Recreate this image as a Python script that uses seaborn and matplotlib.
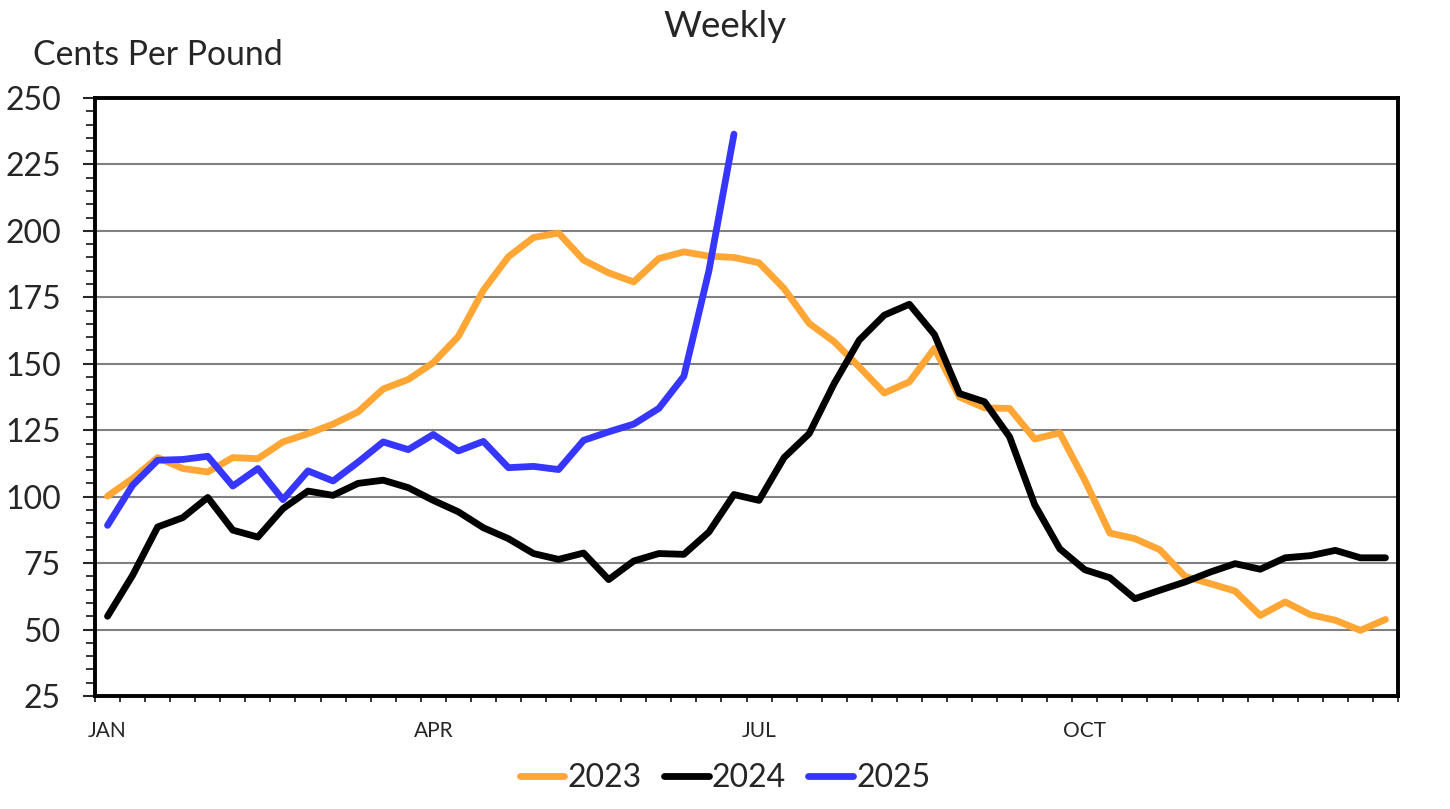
import matplotlib
matplotlib.use('Agg')
import matplotlib.pyplot as plt
import pandas as pd
import seaborn as sns
from matplotlib.ticker import MultipleLocator, FixedLocator

weeks = list(range(52))
price_2023 = [100.2, 106.8, 114.7, 110.6, 109.3, 114.7, 114.3, 120.6, 123.7, 127.3,
              131.9, 140.5, 144.1, 150.4, 160.3, 177.7, 190.3, 197.5, 199.2, 189.0,
              184.2, 180.8, 189.6, 192.1, 190.5, 190.0, 188.0, 178.3, 165.2, 158.3,
              148.8, 139.0, 143.2, 155.8, 137.5, 133.4, 133.2, 121.7, 124.0, 106.2,
              86.3, 84.2, 80.0, 70.0, 67.3, 64.5, 55.3, 60.4, 55.6, 53.5,
              49.7, 53.8]
price_2024 = [55.0, 70.4, 88.6, 92.1, 99.7, 87.4, 84.8, 95.5, 102.1, 100.5,
              105.0, 106.2, 103.4, 98.6, 94.3, 88.3, 84.2, 78.6, 76.4, 78.8,
              68.8, 75.8, 78.6, 78.3, 86.7, 100.8, 98.6, 114.7, 123.7, 142.6,
              158.9, 168.3, 172.4, 161.0, 138.8, 135.7, 122.5, 97.0, 80.4, 72.5,
              69.5, 61.6, 64.8, 67.9, 71.6, 74.8, 72.7, 77.0, 77.8, 79.8,
              77.0, 77.0]
price_2025 = [89.2, 104.3, 113.7, 114.0, 115.2, 104.0, 110.6, 98.9, 109.7, 105.9,
              113.0, 120.6, 117.7, 123.4, 117.2, 120.8, 110.9, 111.4, 110.2, 121.2,
              124.4, 127.3, 133.2, 145.3, 185.0, 236.4]
month_labels = ['JAN', 'APR', 'JUL', 'OCT']
month_weeks = [0, 13, 26, 39]

palette = {'2023': '#FFA635', '2024': '#000000', '2025': '#3636FF'}

frames = []
for year, vals in [('2023', price_2023), ('2024', price_2024), ('2025', price_2025)]:
    frames.append(pd.DataFrame({'week': weeks[:len(vals)], 'price': vals, 'year': year}))
df = pd.concat(frames, ignore_index=True)

sns.set_style('white')
plt.rcParams['font.family'] = ['Lato', 'DejaVu Sans']

fig = plt.figure(figsize=(14.5, 8.09), dpi=100)
ax = fig.add_axes([95 / 1450, 1 - 696 / 809, (1398 - 95) / 1450, (696 - 98) / 809])

sns.lineplot(data=df, x='week', y='price', hue='year', palette=palette,
             linewidth=4.9, solid_capstyle='round', ax=ax, sort=False)

ax.set_xlim(-0.5, 51.5)
ax.set_ylim(25, 250)
ax.set_xlabel('')
ax.set_ylabel('')

ax.yaxis.set_major_locator(MultipleLocator(25))
ax.yaxis.set_minor_locator(MultipleLocator(5))
ax.tick_params(axis='y', which='major', direction='out', length=8.5, width=1.5,
               labelsize=23, pad=16, left=True)
ax.tick_params(axis='y', which='minor', direction='out', length=6.5, width=1.3, left=True)

ax.xaxis.set_major_locator(FixedLocator(month_weeks))
ax.set_xticklabels(month_labels)
ax.xaxis.set_minor_locator(FixedLocator([w - 0.5 for w in range(53)]))
ax.tick_params(axis='x', which='major', length=0, labelsize=15, pad=18)
ax.tick_params(axis='x', which='minor', direction='out', length=4, width=1.3, bottom=True)

ax.yaxis.grid(True, color='#808080', linewidth=1.5)
ax.xaxis.grid(False)
ax.set_axisbelow(True)
for s in ax.spines.values():
    s.set_visible(True)
    s.set_color('black')
    s.set_linewidth(2.8)

handles, labels = ax.get_legend_handles_labels()
ax.get_legend().remove()
fig.legend(handles, labels, loc='center', bbox_to_anchor=(0.5, 1 - 778 / 809),
           ncol=3, frameon=False, fontsize=23, handlelength=1.4,
           handletextpad=0.1, columnspacing=0.7)

fig.text(0.5, 1 - 37 / 809, 'Weekly', ha='center', va='baseline', fontsize=26.5)
fig.text(33 / 1450, 1 - 65 / 809, 'Cents Per Pound', ha='left', va='baseline', fontsize=24.3)

fig.savefig('out.png', dpi=100)
